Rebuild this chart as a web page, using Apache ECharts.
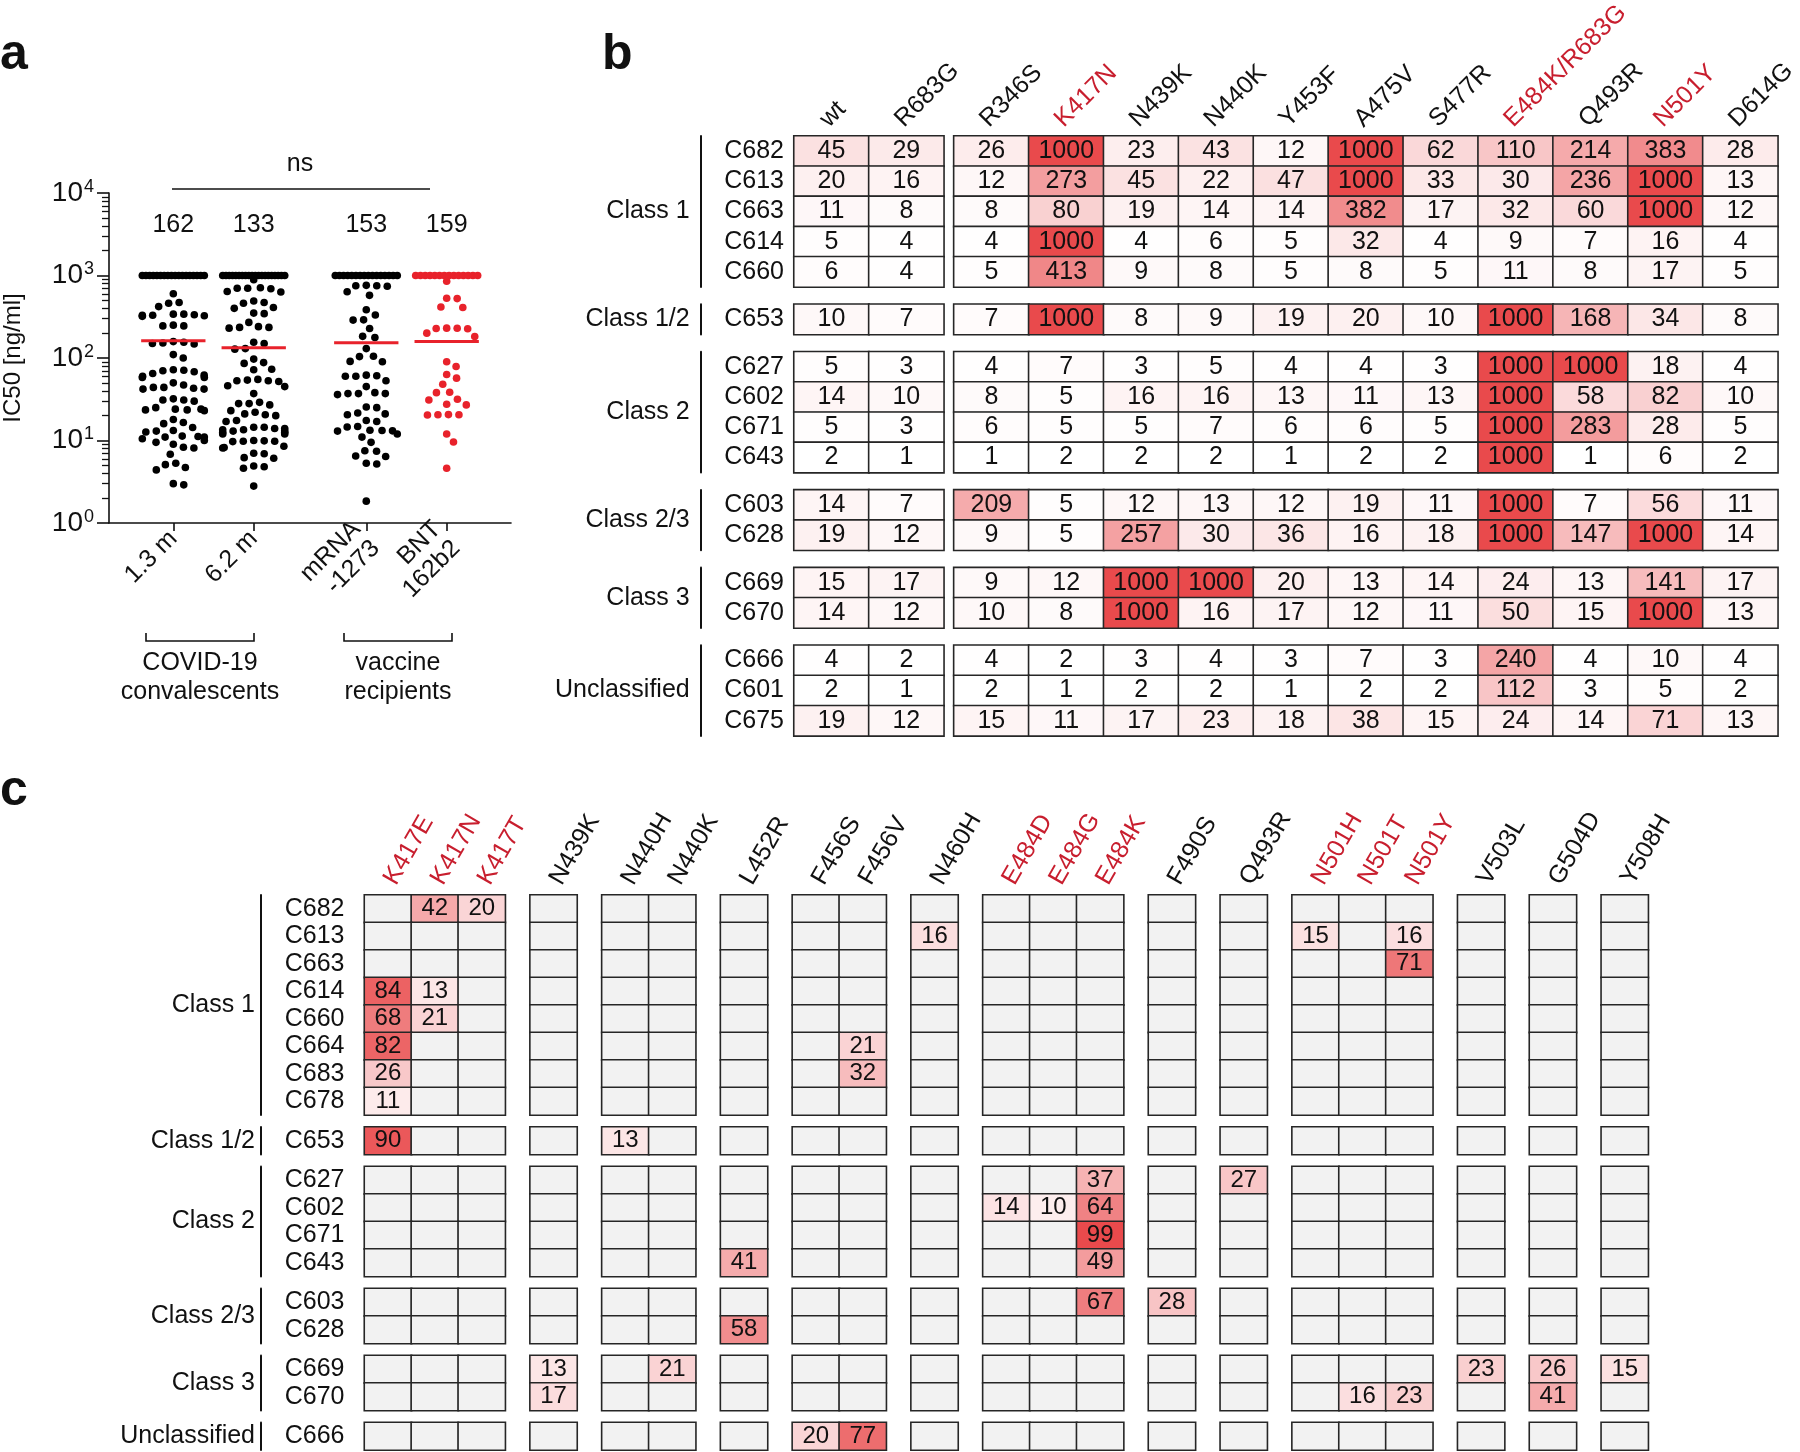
<!DOCTYPE html>
<html><head><meta charset="utf-8">
<script src="https://cdn.jsdelivr.net/npm/echarts@6/dist/echarts.min.js"></script>
<style>html,body{margin:0;padding:0;background:#fff}#c{width:1800px;height:1452px}</style>
</head><body><div id="c"></div>
<script>
// ---------------- Panel a data ----------------
const A_LABELS = ['1.3 m', '6.2 m', 'mRNA\n-1273', 'BNT\n162b2'];
const A_POS = [1, 2, 3.4, 4.4];
const A_GEOMEAN = [162, 133, 153, 159];
const A_Y_TICKS = [1, 10, 100, 1000, 10000];
const A_Y_MINOR = [2,3,4,5,6,7,8,9,20,30,40,50,60,70,80,90,200,300,400,500,600,700,800,900,2000,3000,4000,5000,6000,7000,8000,9000];
const A_13M = [1000,1000,1000,1000,1000,1000,1000,1000,1000,1000,1000,1000,1000,1000,1000,1000,1000,1000,
  600,470,460,420,340,335,330,330,325,320,340,245,245,250,158,152,148,150,155,110,100,
  72,71,68,65,60,58,58,62,70,50,44,42,42,43,44,47,32,31,30,31,24,23.5,23,23.5,24,25,
  18,16.5,16,14.4,13,12.7,13.2,11,11.2,11,11.3,10.5,9.5,9,10,8.1,8.3,6.8,5.1,5.3,4.4,4.7,2.9,3.0];
const A_62M = [1000,1000,1000,1000,1000,1000,1000,1000,1000,1000,1000,1000,1000,1000,1000,1000,1000,1000,1000,1000,
  890,700,700,710,690,630,640,460,470,490,400,410,350,345,270,235,240,230,235,155,150,130,128,97,88,86,72,73,
  53,54,52,53,55,45,46,37,28,29,27,28,23,22,20.5,20,21,17,17.5,
  14.5,14,13.5,13,12.5,12,12,12.5,13,13.5,14,14.5,9.8,9.9,9.7,9.8,10,8.1,8.2,8.5,6.9,7,6.2,6.1,4.8,4.6,4.9,2.8];
const A_MRNA = [1000,1000,1000,1000,1000,1000,1000,1000,1000,1000,1000,1000,1000,1000,1000,1000,
  750,760,740,750,635,575,385,332,288,290,228,183,177,130,104,105,90,91,
  61,60,60,62,53,45,37,38,36,37,37,25.5,25,21,20.5,21.5,17,17.5,14.6,14.8,13.2,13,13.3,13.1,12,11,
  9.5,7.4,7.5,6.4,6.5,5.2,5.3,1.84];
const A_BNT = [1000,1000,1000,1000,1000,1000,1000,1000,1000,1000,1000,1000,1000,1000,
  850,525,530,410,415,228,230,226,229,182,200,90,79,63,57,48,38,38.5,31.6,31,27,27.5,
  20.5,20.6,20.4,20.5,12,9.6,4.6];

// ---------------- Panel b data ----------------
const B_COLS = ['wt','R683G','R346S','K417N','N439K','N440K','Y453F','A475V','S477R','E484K/R683G','Q493R','N501Y','D614G'];
const B_COL_BLOCKS = [2, 11];
const B_RED_COLS = ['K417N','E484K/R683G','N501Y'];
const B_GROUP_NAMES = ['Class 1','Class 1/2','Class 2','Class 2/3','Class 3','Unclassified'];
const B_GROUP_ROWS = [['C682','C613','C663','C614','C660'],['C653'],['C627','C602','C671','C643'],['C603','C628'],['C669','C670'],['C666','C601','C675']];
const B_C682 = [45,29,26,1000,23,43,12,1000,62,110,214,383,28];
const B_C613 = [20,16,12,273,45,22,47,1000,33,30,236,1000,13];
const B_C663 = [11,8,8,80,19,14,14,382,17,32,60,1000,12];
const B_C614 = [5,4,4,1000,4,6,5,32,4,9,7,16,4];
const B_C660 = [6,4,5,413,9,8,5,8,5,11,8,17,5];
const B_C653 = [10,7,7,1000,8,9,19,20,10,1000,168,34,8];
const B_C627 = [5,3,4,7,3,5,4,4,3,1000,1000,18,4];
const B_C602 = [14,10,8,5,16,16,13,11,13,1000,58,82,10];
const B_C671 = [5,3,6,5,5,7,6,6,5,1000,283,28,5];
const B_C643 = [2,1,1,2,2,2,1,2,2,1000,1,6,2];
const B_C603 = [14,7,209,5,12,13,12,19,11,1000,7,56,11];
const B_C628 = [19,12,9,5,257,30,36,16,18,1000,147,1000,14];
const B_C669 = [15,17,9,12,1000,1000,20,13,14,24,13,141,17];
const B_C670 = [14,12,10,8,1000,16,17,12,11,50,15,1000,13];
const B_C666 = [4,2,4,2,3,4,3,7,3,240,4,10,4];
const B_C601 = [2,1,2,1,2,2,1,2,2,112,3,5,2];
const B_C675 = [19,12,15,11,17,23,18,38,15,24,14,71,13];

// ---------------- Panel c data ----------------
const C_COLS = ['K417E','K417N','K417T','N439K','N440H','N440K','L452R','F456S','F456V','N460H','E484D','E484G','E484K','F490S','Q493R','N501H','N501T','N501Y','V503L','G504D','Y508H'];
const C_COL_BLOCKS = [3,1,2,1,2,1,3,1,1,3,1,1,1];
const C_RED_COLS = ['K417E','K417N','K417T','E484D','E484G','E484K','N501H','N501T','N501Y'];
const C_GROUP_NAMES = ['Class 1','Class 1/2','Class 2','Class 2/3','Class 3','Unclassified'];
const C_GROUP_ROWS = [['C682','C613','C663','C614','C660','C664','C683','C678'],['C653'],['C627','C602','C671','C643'],['C603','C628'],['C669','C670'],['C666']];
const C_HITS = [
  ['C682','K417N',42],['C682','K417T',20],
  ['C613','N460H',16],['C613','N501H',15],['C613','N501Y',16],
  ['C663','N501Y',71],
  ['C614','K417E',84],['C614','K417N',13],
  ['C660','K417E',68],['C660','K417N',21],
  ['C664','K417E',82],['C664','F456V',21],
  ['C683','K417E',26],['C683','F456V',32],
  ['C678','K417E',11],
  ['C653','K417E',90],['C653','N440H',13],
  ['C627','E484K',37],['C627','Q493R',27],
  ['C602','E484D',14],['C602','E484G',10],['C602','E484K',64],
  ['C671','E484K',99],
  ['C643','L452R',41],['C643','E484K',49],
  ['C603','E484K',67],['C603','F490S',28],
  ['C628','L452R',58],
  ['C669','N439K',13],['C669','N440K',21],['C669','V503L',23],['C669','G504D',26],['C669','Y508H',15],
  ['C670','N439K',17],['C670','N501T',16],['C670','N501Y',23],['C670','G504D',41],
  ['C666','F456S',20],['C666','F456V',77]
];

// ---------------- styling / layout ----------------
const FONT = '"Liberation Sans", Arial, Helvetica, sans-serif';
const TXT = '#111';
const RED_TXT = '#C81E2E';
const DOT_RED = '#E8222B';

const B_ROWVALS = {C682:B_C682,C613:B_C613,C663:B_C663,C614:B_C614,C660:B_C660,C653:B_C653,C627:B_C627,C602:B_C602,C671:B_C671,C643:B_C643,C603:B_C603,C628:B_C628,C669:B_C669,C670:B_C670,C666:B_C666,C601:B_C601,C675:B_C675};
const C_LOOKUP = {};
C_HITS.forEach(h => { C_LOOKUP[h[0] + '|' + h[1]] = h[2]; });

function mixRed(t) {
  const r = Math.round(255 + (233 - 255) * t);
  const g = Math.round(255 + (74 - 255) * t);
  const b = Math.round(255 + (76 - 255) * t);
  return 'rgb(' + r + ',' + g + ',' + b + ')';
}
function colorB(v) { const t = Math.max(0, Math.min(1, Math.log10(v) / 3)); return mixRed(Math.pow(t, 3)); }
function colorC(v) { if (!v) return '#f2f2f2'; const t = Math.max(0, Math.min(1, (v - 5) / 94)); return mixRed(Math.pow(t, 0.8)); }

const grids = [], xAxes = [], yAxes = [], series = [];
const headerJobs = [];   // header labels placed from the axes' own coordinates after first layout

// ---- Panel a ----
grids.push({left: 101, top: 193, width: 410, height: 330});
xAxes.push({gridIndex: 0, type: 'value', min: 0.2, max: 5.2, position: 'bottom',
  axisLine: {show: true, lineStyle: {color: TXT, width: 1.6}},
  axisTick: {show: true, customValues: A_POS, length: 8, lineStyle: {color: TXT, width: 1.6}},
  splitLine: {show: false},
  axisLabel: {customValues: A_POS, rotate: 45, margin: 12, fontSize: 25, lineHeight: 27, fontFamily: FONT, color: TXT,
    formatter: v => A_LABELS[A_POS.indexOf(v)] || ''}});
xAxes.push({gridIndex: 0, type: 'value', min: 0.2, max: 5.2, position: 'top',
  axisLine: {show: false}, axisTick: {show: false}, splitLine: {show: false},
  axisLabel: {customValues: A_POS, inside: true, margin: 20, fontSize: 25, fontFamily: FONT, color: TXT,
    formatter: v => String(A_GEOMEAN[A_POS.indexOf(v)])}});
yAxes.push({gridIndex: 0, type: 'log', logBase: 10, min: 1, max: 10000, position: 'left',
  name: 'IC50 [ng/ml]', nameLocation: 'middle', nameGap: 84,
  nameTextStyle: {fontSize: 24, fontFamily: FONT, color: TXT},
  axisLine: {show: true, lineStyle: {color: TXT, width: 1.6}},
  axisTick: {show: true, customValues: A_Y_TICKS, length: 12, lineStyle: {color: TXT, width: 1.6}},
  splitLine: {show: false}, minorTick: {show: false},
  axisLabel: {customValues: A_Y_TICKS, margin: 15, color: TXT,
    formatter: v => '{b|10}{s|' + Math.round(Math.log10(v)) + '}',
    rich: {b: {fontSize: 28, fontFamily: FONT, color: TXT}, s: {fontSize: 18, fontFamily: FONT, color: TXT, verticalAlign: 'top', padding: [0, 0, 12, 1]}}}});
yAxes.push({gridIndex: 0, type: 'log', logBase: 10, min: 1, max: 10000, position: 'left', offset: 0,
  axisLine: {show: false}, axisLabel: {show: false}, splitLine: {show: false},
  axisTick: {show: true, customValues: A_Y_MINOR, length: 7, lineStyle: {color: TXT, width: 1.3}}});

const A_SETS = [A_13M, A_62M, A_MRNA, A_BNT];
A_SETS.forEach((vals, k) => {
  series.push({id: 'dots' + k, type: 'scatter', xAxisIndex: 0, yAxisIndex: 0, symbol: 'circle', symbolSize: 7.6,
    itemStyle: {color: k === 3 ? DOT_RED : '#000', opacity: 1}, data: [], silent: true, z: 3});
});
A_GEOMEAN.forEach((gm, k) => {
  series.push({type: 'line', xAxisIndex: 0, yAxisIndex: 0, symbol: 'none', silent: true, z: 5,
    lineStyle: {color: '#E8222B', width: 3}, data: [[A_POS[k] - 0.4, gm], [A_POS[k] + 0.4, gm]]});
});

// ---- generic grouped heat table builder ----
function buildTable(cfg) {
  let y = cfg.top;
  cfg.groupRows.forEach((rows, gi) => {
    const h = rows.length * cfg.rowH;
    let x = cfg.left, c0 = 0;
    cfg.colBlocks.forEach((nc, bi) => {
      const cols = cfg.cols.slice(c0, c0 + nc);
      const w = nc * cfg.colW;
      const gidx = grids.length;
      grids.push({left: x, top: y, width: w, height: h});
      const xi = xAxes.length;
      xAxes.push({gridIndex: gidx, type: 'category', data: cols, position: 'top', show: false});
      if (gi === 0) headerJobs.push({xi: xi, cols: cols, top: y, cfg: cfg});
      const yi = yAxes.length;
      yAxes.push({gridIndex: gidx, type: 'category', data: rows, inverse: true, show: bi === 0,
        axisLine: {show: false}, axisTick: {show: false}, splitLine: {show: false},
        axisLabel: {interval: 0, margin: cfg.rowLabelMargin, fontSize: cfg.rowFont, fontFamily: FONT, color: TXT}});
      if (bi === 0) {
        yAxes.push({gridIndex: gidx, type: 'value', position: 'left', offset: cfg.barOffset, min: 0, max: 1,
          axisLine: {show: true, onZero: false, lineStyle: {color: TXT, width: 2}}, axisTick: {show: false}, axisLabel: {show: false},
          splitLine: {show: false}, name: cfg.groupNames[gi], nameLocation: 'middle', nameRotate: 0, nameGap: cfg.nameGap,
          nameTextStyle: {fontSize: cfg.rowFont, fontFamily: FONT, color: TXT}});
      }
      const data = [];
      rows.forEach((r, ri) => cols.forEach((c, ci) => {
        const v = cfg.valueOf(r, c);
        data.push({value: [ci, ri, v], itemStyle: {color: cfg.colorOf(v)}});
      }));
      series.push({type: 'heatmap', xAxisIndex: xi, yAxisIndex: yi, data: data, silent: true,
        itemStyle: {borderColor: '#262626', borderWidth: 1.6},
        label: {show: true, fontSize: cfg.cellFont, fontFamily: FONT, color: TXT,
          formatter: p => p.value[2] ? String(p.value[2]) : ''},
        emphasis: {disabled: true}});
      x += w + cfg.colGap; c0 += nc;
    });
    y += h + cfg.rowGap;
  });
}

// ---- Panel b ----
buildTable({
  groupRows: B_GROUP_ROWS, groupNames: B_GROUP_NAMES, cols: B_COLS, colBlocks: B_COL_BLOCKS, redCols: B_RED_COLS,
  top: 136, rowH: 30.2, rowGap: 17.3, left: 794, colW: 74.9, colGap: 10.1,
  valueOf: (r, c) => B_ROWVALS[r][B_COLS.indexOf(c)], colorOf: colorB,
  headFont: 25, rowFont: 25, cellFont: 25, headRotate: 45, headDx: 1.5, headDy: 4, rowLabelMargin: 10,
  barOffset: 93.3, nameGap: 11
});

// ---- Panel c ----
buildTable({
  groupRows: C_GROUP_ROWS, groupNames: C_GROUP_NAMES, cols: C_COLS, colBlocks: C_COL_BLOCKS, redCols: C_RED_COLS,
  top: 895, rowH: 27.5, rowGap: 12, left: 364.5, colW: 46.9, colGap: 24.9,
  valueOf: (r, c) => C_LOOKUP[r + '|' + c] || 0, colorOf: colorC,
  headFont: 25, rowFont: 25, cellFont: 24, headRotate: 60, headDx: 13, headDy: 6, rowLabelMargin: 20,
  barOffset: 103.5, nameGap: 6
});

function txt(x, y, s, opt) {
  opt = opt || {};
  const al = opt.align || 'center', va = opt.valign || 'middle';
  return {type: 'text', x: x, y: y, rotation: opt.rotation || 0, silent: true,
    style: {text: s, fill: opt.color || TXT, font: (opt.weight || 'normal') + ' ' + (opt.size || 24) + 'px ' + FONT,
      align: al, textAlign: al, verticalAlign: va, textVerticalAlign: va}};
}
const graphics = [
  txt(0, 55, 'a', {size: 50, weight: 'bold', align: 'left'}),
  txt(602, 55, 'b', {size: 50, weight: 'bold', align: 'left'}),
  txt(0, 791, 'c', {size: 50, weight: 'bold', align: 'left'}),
  txt(300, 164, 'ns', {size: 25}),
  {type: 'line', silent: true, shape: {x1: 172, y1: 189, x2: 430, y2: 189}, style: {stroke: TXT, lineWidth: 1.6}},
  {type: 'polyline', silent: true, shape: {points: [[146, 633], [146, 641], [254, 641], [254, 633]]}, style: {stroke: TXT, lineWidth: 1.6, fill: null}},
  {type: 'polyline', silent: true, shape: {points: [[344, 633], [344, 641], [452, 641], [452, 633]]}, style: {stroke: TXT, lineWidth: 1.6, fill: null}},
  txt(200, 663, 'COVID-19', {size: 25}),
  txt(200, 692, 'convalescents', {size: 25}),
  txt(398, 663, 'vaccine', {size: 25}),
  txt(398, 692, 'recipients', {size: 25})
];

const chart = echarts.init(document.getElementById('c'), null, {renderer: 'canvas', width: 1800, height: 1452});
chart.setOption({
  animation: false, backgroundColor: '#fff',
  textStyle: {fontFamily: FONT},
  grid: grids, xAxis: xAxes, yAxis: yAxes, series: series
});

// ---- column headers: rotated tick labels at the category axes' own band centres ----
headerJobs.forEach(job => {
  const c = job.cfg;
  job.cols.forEach(col => {
    const px = chart.convertToPixel({xAxisIndex: job.xi}, col);
    graphics.push(txt(px + c.headDx, job.top - c.headDy, col, {
      size: c.headFont, align: 'left', valign: 'bottom', rotation: c.headRotate * Math.PI / 180,
      color: c.redCols.indexOf(col) >= 0 ? RED_TXT : TXT}));
  });
});

// ---- beeswarm layout of panel a dots (pixel space from the chart's own axes) ----
function swarm(vals, pyOf, D, W) {
  const out = new Array(vals.length);
  const capped = [], rest = [];
  vals.forEach((v, i) => { (v >= 1000 ? capped : rest).push({v: v, i: i, y: pyOf(v)}); });
  capped.forEach((p, k) => { out[p.i] = capped.length > 1 ? -W + 2 * W * k / (capped.length - 1) : 0; });
  rest.sort((a, b) => a.y - b.y);
  const placed = [];
  rest.forEach(p => {
    const cands = [0];
    placed.forEach(q => {
      const dy = Math.abs(q.y - p.y);
      if (dy < D) { const dx = Math.sqrt(D * D - dy * dy); cands.push(q.x + dx, q.x - dx); }
    });
    cands.sort((a, b) => Math.abs(a) - Math.abs(b));
    let best = null;
    for (const x of cands) {
      if (placed.every(q => Math.hypot(q.x - x, q.y - p.y) >= D - 0.01)) { best = x; break; }
    }
    if (best === null) best = 0;
    best = Math.max(-W, Math.min(W, best));
    p.x = best; placed.push(p); out[p.i] = best;
  });
  return out;
}
const unit = chart.convertToPixel({gridIndex: 0}, [2, 10])[0] - chart.convertToPixel({gridIndex: 0}, [1, 10])[0];
const upd = A_SETS.map((vals, k) => {
  const offs = swarm(vals, v => chart.convertToPixel({gridIndex: 0}, [1, v])[1], 10.5, 31);
  return {id: 'dots' + k, data: vals.map((v, i) => [A_POS[k] + offs[i] / unit, v])};
});
chart.setOption({series: upd, graphic: graphics});
</script>
</body></html>
